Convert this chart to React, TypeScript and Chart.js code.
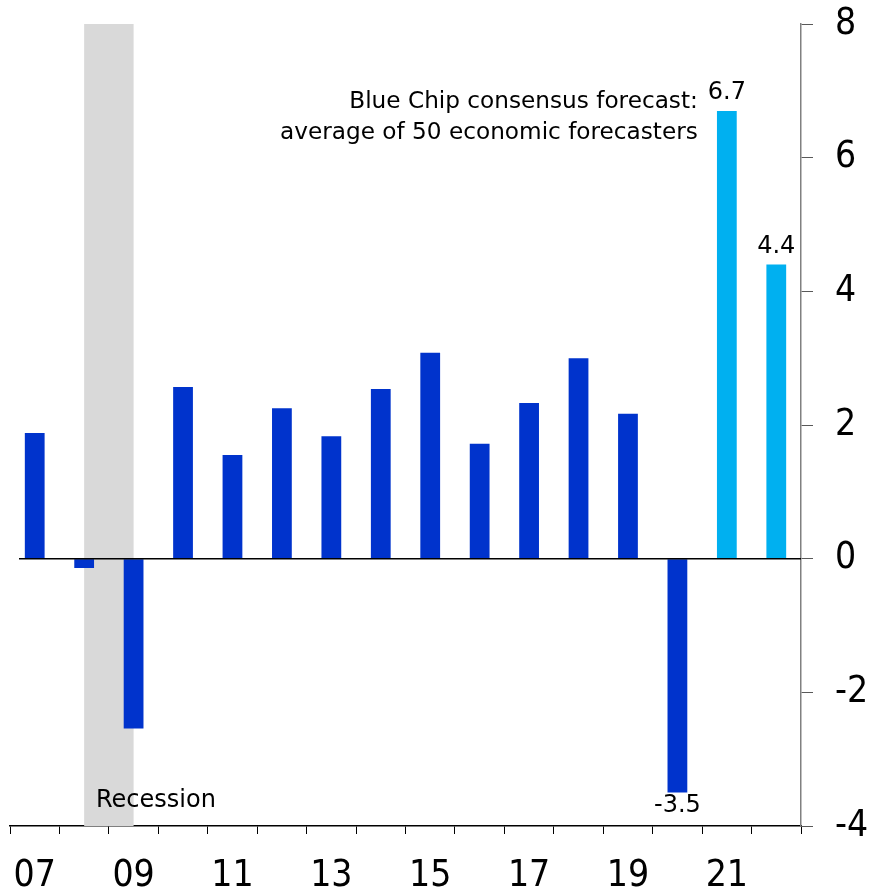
import React, { useEffect, useRef } from "react";
import { Chart, registerables } from "chart.js";

Chart.register(...registerables);

const years = ["07", "08", "09", "10", "11", "12", "13", "14", "15", "16", "17", "18", "19", "20", "21", "22"];
const shownYearLabels = ["07", "09", "11", "13", "15", "17", "19", "21"];
const actualGrowth = [1.88, -0.14, -2.54, 2.57, 1.55, 2.25, 1.83, 2.54, 3.08, 1.72, 2.33, 3.0, 2.17, -3.5, null, null];
const forecastGrowth = [null, null, null, null, null, null, null, null, null, null, null, null, null, null, 6.7, 4.4];
const labeledYears = ["20", "21", "22"];
const yTicks = [-4, -2, 0, 2, 4, 6, 8];
const recessionFrom = "08";
const recessionTo = "09";
const forecastNote = ["Blue Chip consensus forecast:", "average of 50 economic forecasters"];
const recessionNote = "Recession";

const TICK_FONT = "'DejaVu Sans Condensed', 'DejaVu Sans', sans-serif";
const FONT = "'DejaVu Sans', sans-serif";

const overlayPlugin = {
  id: "overlay",
  beforeDatasetsDraw(chart: any) {
    const { ctx, chartArea, scales } = chart;
    const x = scales.x;
    const x0 = x.getPixelForValue(years.indexOf(recessionFrom));
    const x1 = x.getPixelForValue(years.indexOf(recessionTo));
    ctx.save();
    ctx.fillStyle = "#D9D9D9";
    ctx.fillRect(x0, chartArea.top, x1 - x0, chartArea.bottom - chartArea.top);
    ctx.restore();
  },
  afterDatasetsDraw(chart: any) {
    const { ctx, chartArea, scales } = chart;
    const x = scales.x;
    const y = scales.y;
    ctx.save();
    const y0 = y.getPixelForValue(0);
    ctx.strokeStyle = "#000000";
    ctx.lineWidth = 1.5;
    ctx.beginPath();
    ctx.moveTo(chartArea.left + 9, y0);
    ctx.lineTo(chartArea.right, y0);
    ctx.stroke();

    ctx.fillStyle = "#000000";
    ctx.font = `24px ${FONT}`;
    ctx.textAlign = "center";
    labeledYears.forEach((yr) => {
      const i = years.indexOf(yr);
      const v = actualGrowth[i] ?? forecastGrowth[i];
      if (v == null) return;
      const px = x.getPixelForValue(i);
      const py = y.getPixelForValue(v);
      if (v >= 0) {
        ctx.textBaseline = "bottom";
        ctx.fillText(v.toFixed(1), px, py - 6);
      } else {
        ctx.textBaseline = "top";
        ctx.fillText(v.toFixed(1), px, py + 1);
      }
    });

    ctx.textAlign = "left";
    ctx.textBaseline = "middle";
    ctx.fillText(recessionNote, 96, 801);

    ctx.font = `23.2px ${FONT}`;
    ctx.textAlign = "right";
    const noteX = x.getPixelForValue(years.indexOf("21")) - 29;
    ctx.fillText(forecastNote[0], noteX, 102);
    ctx.fillText(forecastNote[1], noteX, 133);
    ctx.restore();
  },
};

export default function App() {
  const ref = useRef<HTMLCanvasElement | null>(null);
  useEffect(() => {
    if (!ref.current) return;
    const chart = new Chart(ref.current, {
      type: "bar",
      data: {
        labels: years,
        datasets: [
          {
            data: actualGrowth as any,
            backgroundColor: "#0033CC",
            grouped: false,
            barPercentage: 0.8,
            categoryPercentage: 0.5,
          },
          {
            data: forecastGrowth as any,
            backgroundColor: "#00B0F0",
            grouped: false,
            barPercentage: 0.8,
            categoryPercentage: 0.5,
          },
        ],
      },
      options: {
        responsive: false,
        animation: false,
        layout: { padding: { left: 10, top: 24, right: 0, bottom: 0 } },
        plugins: { legend: { display: false }, tooltip: { enabled: false } },
        scales: {
          x: {
            type: "category",
            offset: true,
            grid: {
              display: true,
              offset: true,
              drawOnChartArea: false,
              drawTicks: true,
              tickLength: 8,
              tickColor: "#000000",
              color: "#000000",
            },
            border: { display: true, color: "#000000", width: 1.5 },
            ticks: {
              autoSkip: false,
              maxRotation: 0,
              padding: 20,
              color: "#000000",
              font: { family: TICK_FONT, size: 37 },
              callback: (_v: any, i: number) => (shownYearLabels.includes(years[i]) ? years[i] : ""),
            },
            afterFit: (s: any) => {
              s.height = 69;
              s.paddingLeft = 0;
              s.paddingRight = 0;
            },
          },
          y: {
            position: "right",
            min: -4,
            max: 8,
            afterBuildTicks: (s: any) => {
              s.ticks = yTicks.map((v) => ({ value: v }));
            },
            grid: {
              display: true,
              drawOnChartArea: false,
              tickLength: 12,
              tickColor: "#595959",
              color: "#595959",
            },
            border: { display: true, color: "#808080", width: 1.5 },
            ticks: {
              padding: 22,
              color: "#000000",
              font: { family: TICK_FONT, size: 37 },
              callback: (v: any) => String(v),
            },
            afterFit: (s: any) => {
              s.width = 69;
              s.paddingTop = 0;
              s.paddingBottom = 0;
            },
          },
        },
      },
      plugins: [overlayPlugin],
    });
    return () => chart.destroy();
  }, []);
  return (
    <div style={{ position: "absolute", left: 0, top: 0, width: 870, height: 895, background: "#fff" }}>
      <canvas ref={ref} width={870} height={895} />
    </div>
  );
}
